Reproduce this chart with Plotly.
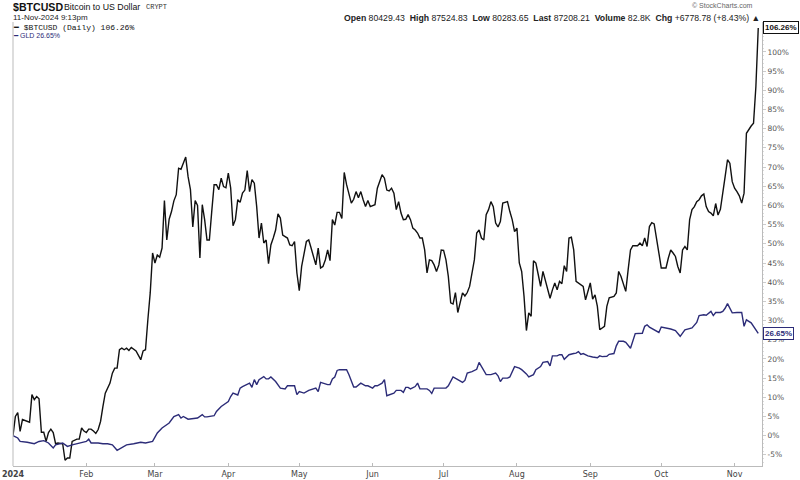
import pandas as pd
import plotly.graph_objects as go

# Days since 2024-01-01 and % change since start
btc_day = [0, 1, 2, 3, 4, 5, 7, 8, 9, 10, 11, 12, 13, 14, 15, 16, 17, 18, 19, 21, 22, 23, 24, 25, 27, 28, 29, 30,
           31, 32, 33, 34, 35, 36, 37, 38, 39, 41, 42, 43, 44, 45, 46, 47, 48, 49, 50, 52, 54, 55, 56, 57, 58, 59,
           60, 61, 62, 63, 64, 65, 66, 67, 68, 69, 70, 71, 73, 74, 75, 76, 77, 78, 79, 80, 81, 82, 83, 84, 85, 86,
           87, 88, 89, 90, 91, 92, 93, 94, 95, 96, 97, 98, 99, 100, 101, 102, 103, 104, 105, 106, 107, 108, 109,
           110, 111, 112, 113, 114, 116, 117, 118, 119, 120, 121, 122, 124, 125, 126, 128, 129, 130, 131, 132, 133,
           134, 135, 136, 137, 138, 139, 140, 141, 142, 143, 144, 145, 146, 147, 148, 149, 150, 151, 153, 154, 156,
           157, 158, 159, 160, 161, 162, 163, 164, 165, 166, 167, 168, 169, 170, 171, 172, 173, 174, 175, 176, 177,
           178, 179, 180, 181, 182, 183, 184, 185, 186, 187, 188, 189, 190, 191, 192, 193, 194, 195, 196, 197, 198,
           199, 200, 201, 202, 203, 204, 205, 206, 207, 208, 209, 210, 211, 212, 213, 214, 215, 216, 217, 218, 219,
           220, 221, 222, 223, 224, 225, 226, 227, 228, 229, 230, 231, 232, 233, 234, 235, 236, 237, 238, 239, 240,
           241, 242, 243, 244, 245, 246, 247, 248, 250, 251, 252, 254, 255, 256, 257, 258, 259, 260, 261, 262, 264,
           265, 266, 267, 268, 269, 270, 271, 272, 273, 274, 276, 277, 278, 279, 280, 281, 282, 283, 284, 285, 286,
           287, 288, 289, 290, 291, 292, 293, 294, 295, 296, 297, 298, 299, 300, 301, 302, 303, 304, 305, 306, 307,
           308, 309, 310, 311, 312, 313, 314, 315]
btc_pct = [0.0, 5.0, 6.0, 1.1, 4.2, 3.9, 3.5, 10.7, 9.4, 10.2, 9.6, 0.9, 0.9, -1.5, 0.8, 1.7, 0.8, -2.1, -1.9, -2.1,
           -6.4, -5.8, -5.8, -1.5, -0.9, -0.9, 2.0, 1.2, 0.8, 1.7, 1.7, 1.2, 0.6, 1.6, 3.7, 7.6, 11.1, 13.7, 16.3,
           17.6, 17.6, 22.4, 22.8, 22.4, 22.8, 22.2, 23.0, 22.1, 19.8, 22.1, 22.4, 30.2, 37.2, 47.6, 45.0, 47.1,
           46.5, 48.9, 61.3, 51.0, 56.4, 58.4, 61.2, 62.8, 69.7, 69.4, 72.6, 67.5, 64.1, 54.4, 61.3, 60.0, 46.3,
           60.2, 56.3, 51.0, 51.0, 58.4, 65.4, 65.4, 64.1, 67.1, 64.9, 64.6, 68.4, 64.6, 54.7, 56.3, 61.5, 60.8,
           63.2, 64.0, 69.1, 63.6, 66.7, 65.8, 59.7, 51.5, 55.4, 50.2, 51.0, 44.8, 49.7, 51.5, 53.6, 57.8, 56.7,
           52.3, 51.5, 49.7, 49.5, 50.6, 42.4, 37.8, 44.1, 50.6, 51.0, 48.9, 44.5, 48.9, 43.7, 44.1, 45.8, 48.4,
           45.6, 56.3, 54.9, 58.2, 58.2, 56.6, 68.6, 65.4, 62.8, 60.6, 61.6, 63.6, 62.0, 63.6, 61.5, 59.7, 61.3,
           59.7, 60.2, 64.5, 68.0, 67.1, 64.0, 63.8, 64.5, 63.2, 58.9, 61.0, 58.0, 56.3, 56.4, 57.6, 56.3, 54.1,
           53.6, 52.8, 51.5, 51.5, 48.4, 42.4, 45.8, 45.6, 44.5, 42.8, 44.5, 48.4, 48.3, 45.8, 41.5, 34.6, 34.3,
           37.3, 32.1, 34.3, 37.2, 36.4, 37.3, 38.9, 41.9, 45.8, 52.8, 53.6, 51.5, 51.0, 57.6, 58.9, 61.0, 59.7,
           55.4, 54.4, 55.8, 60.6, 60.8, 61.0, 58.4, 56.3, 53.2, 54.1, 45.0, 42.8, 36.3, 27.4, 32.0, 31.1, 45.6,
           45.0, 42.0, 38.9, 42.8, 40.6, 38.5, 35.8, 38.0, 39.8, 38.0, 40.2, 39.6, 44.3, 42.8, 51.5, 51.7, 48.4,
           40.2, 39.8, 39.4, 38.9, 35.4, 37.3, 39.8, 35.6, 36.7, 33.7, 27.6, 28.5, 33.7, 35.9, 36.3, 37.2, 42.8,
           41.5, 39.4, 37.6, 43.2, 48.4, 49.5, 49.5, 50.2, 49.5, 51.5, 49.3, 54.5, 55.5, 55.2, 51.9, 47.6, 43.7,
           43.7, 46.3, 48.4, 47.6, 46.7, 44.1, 42.4, 48.4, 49.3, 48.4, 56.3, 58.9, 59.7, 61.0, 61.5, 62.5, 63.0,
           59.7, 58.4, 58.0, 57.3, 60.5, 57.5, 59.0, 62.8, 67.5, 71.9, 71.0, 66.2, 64.5, 63.6, 62.5, 60.6, 63.2,
           78.8, 79.8, 80.7, 81.4, 91.0, 106.26]

gld_day = [0, 2, 3, 6, 9, 11, 13, 15, 17, 18, 21, 22, 23, 25, 28, 31, 32, 33, 36, 38, 40, 42, 44, 46, 48, 51, 54,
           56, 59, 61, 63, 66, 68, 70, 71, 72, 74, 78, 80, 81, 82, 85, 86, 88, 89, 91, 92, 93, 95, 96, 97, 99, 100,
           101, 102, 103, 104, 106, 107, 108, 109, 111, 113, 115, 116, 119, 120, 121, 123, 125, 128, 129, 130, 133,
           134, 135, 136, 137, 138, 141, 142, 144, 145, 147, 149, 150, 152, 153, 154, 156, 157, 158, 161, 162, 164,
           165, 166, 167, 168, 170, 171, 172, 175, 176, 177, 178, 180, 183, 184, 186, 188, 190, 191, 192, 194, 196,
           197, 198, 199, 200, 202, 204, 205, 206, 207, 209, 210, 212, 214, 215, 217, 218, 220, 221, 223, 224, 226,
           227, 228, 230, 231, 232, 233, 235, 237, 238, 239, 240, 241, 243, 245, 247, 248, 249, 251, 252, 254, 255,
           256, 258, 259, 261, 263, 264, 266, 267, 268, 269, 271, 273, 274, 276, 278, 280, 282, 284, 285, 287, 289,
           290, 292, 293, 295, 296, 297, 299, 300, 301, 302, 303, 304, 306, 308, 309, 310, 312, 315]
gld_pct = [0.0, -0.6, -1.5, -1.7, -2.1, -1.5, -1.3, -1.9, -3.2, -2.4, -1.9, -2.4, -2.8, -2.4, -1.9, -1.5, -0.9,
           -1.9, -1.9, -2.1, -2.1, -2.4, -3.8, -3.0, -2.4, -2.1, -1.7, -1.9, -1.5, 0.7, 2.0, 3.3, 5.0, 5.5, 4.6,
           5.0, 4.3, 4.6, 5.5, 4.9, 4.9, 5.2, 6.3, 7.6, 8.0, 8.9, 10.2, 11.1, 10.6, 12.4, 12.8, 13.3, 13.7, 12.6,
           14.6, 13.3, 14.6, 15.4, 14.8, 14.8, 15.3, 14.1, 12.4, 12.2, 13.0, 13.0, 10.7, 11.5, 11.1, 11.8, 12.4,
           11.5, 13.9, 13.3, 13.3, 14.8, 15.3, 17.0, 17.2, 17.2, 15.9, 12.7, 12.7, 13.7, 13.0, 13.0, 12.4, 13.0,
           13.0, 13.7, 14.6, 10.4, 11.1, 11.8, 11.8, 11.3, 12.6, 12.6, 12.2, 12.8, 13.7, 12.2, 12.2, 11.8, 11.0,
           12.4, 12.4, 12.4, 13.0, 15.3, 14.6, 13.9, 14.4, 16.3, 16.7, 17.3, 19.1, 18.0, 17.3, 15.9, 15.9, 16.3,
           15.6, 14.1, 15.0, 15.0, 15.3, 18.0, 17.6, 17.2, 16.1, 15.3, 15.9, 17.2, 18.0, 19.1, 19.3, 18.2, 20.8,
           20.8, 21.1, 21.1, 19.9, 21.1, 21.4, 21.5, 21.9, 21.2, 21.4, 20.8, 20.5, 20.3, 20.8, 20.6, 20.7, 21.2,
           21.4, 23.4, 24.6, 24.6, 24.3, 22.8, 26.6, 26.6, 26.7, 28.5, 28.9, 28.3, 27.6, 26.9, 28.3, 28.1, 27.8,
           27.4, 25.9, 27.6, 27.8, 28.1, 29.5, 31.3, 31.5, 31.4, 32.4, 31.3, 32.1, 32.1, 32.4, 33.2, 34.4, 33.2,
           32.0, 32.1, 32.1, 28.5, 30.2, 29.4, 26.65]

month_ticks = ["2024-01-01", "2024-02-01", "2024-03-01", "2024-04-01", "2024-05-01", "2024-06-01",
               "2024-07-01", "2024-08-01", "2024-09-01", "2024-10-01", "2024-11-01"]
month_labels = ["<b>2024</b>", "Feb", "Mar", "Apr", "May", "Jun", "Jul", "Aug", "Sep", "Oct", "Nov"]
y_ticks = list(range(-5, 101, 5))
y_labels = ["%d%%" % v for v in y_ticks]

start = pd.Timestamp("2024-01-01")
btc_x = start + pd.to_timedelta(btc_day, unit="D")
gld_x = start + pd.to_timedelta(gld_day, unit="D")

BTC_C = "#111111"
GLD_C = "#2c2c78"
FONT = "DejaVu Sans"
SANS = "Liberation Sans"

fig = go.Figure()
fig.add_trace(go.Scatter(x=btc_x, y=btc_pct, mode="lines", line=dict(color=BTC_C, width=1.4),
                         name="$BTCUSD", showlegend=False))
fig.add_trace(go.Scatter(x=gld_x, y=gld_pct, mode="lines", line=dict(color=GLD_C, width=1.4),
                         name="GLD", showlegend=False))

fig.update_layout(
    width=800, height=480,
    margin=dict(l=13, r=38, t=22, b=14, autoexpand=False),
    paper_bgcolor="white", plot_bgcolor="white",
    font=dict(family=FONT, size=8, color="#444"),
    xaxis=dict(
        type="date", automargin=False,
        range=["2024-01-01", "2024-11-12 14:00"],
        tickvals=month_ticks, ticktext=month_labels,
        showgrid=False, zeroline=False,
        showline=True, linecolor="#bbbbbb", linewidth=1,
        ticks="inside", ticklen=3, tickcolor="#bbbbbb",
        tickfont=dict(size=8, color="#444", family=FONT),
    ),
    yaxis=dict(
        side="right", automargin=False,
        range=[-7.9, 107.8],
        tickvals=y_ticks, ticktext=y_labels,
        showgrid=False, zeroline=False,
        showline=True, linecolor="#bbbbbb", linewidth=1,
        ticks="outside", ticklen=3, tickcolor="#cccccc",
        tickfont=dict(size=7.5, color="#555", family=FONT),
        minor=dict(dtick=1, ticks="outside", ticklen=1, tickcolor="#dddddd"),
    ),
)
# left border line
fig.add_shape(type="line", xref="paper", yref="paper", x0=0, x1=0, y0=0, y1=1,
              line=dict(color="#bbbbbb", width=1))

def px(xp):
    return (xp - 13) / 749.0

# Header texts
fig.add_annotation(xref="paper", yref="paper", x=px(11), y=1.034, xanchor="left", yanchor="middle",
                   text="<b>$BTCUSD</b>", showarrow=False,
                   font=dict(size=10.6, color="#111", family=SANS))
fig.add_annotation(xref="paper", yref="paper", x=px(62), y=1.033, xanchor="left", yanchor="middle",
                   text="Bitcoin to US Dollar", showarrow=False,
                   font=dict(size=8.8, color="#111", family=SANS))
fig.add_annotation(xref="paper", yref="paper", x=px(144), y=1.033, xanchor="left", yanchor="middle",
                   text="CRYPT", showarrow=False,
                   font=dict(size=7, color="#333", family="Liberation Mono"))
fig.add_annotation(xref="paper", yref="paper", x=px(11), y=1.010, xanchor="left", yanchor="middle",
                   text="11-Nov-2024 9:13pm", showarrow=False,
                   font=dict(size=8, color="#222", family=SANS))
fig.add_annotation(xref="paper", yref="paper", x=1.0, y=1.010, xanchor="right", yanchor="middle",
                   text="<b>Open</b> 80429.43  <b>High</b> 87524.83  <b>Low</b> 80283.65  "
                        "<b>Last</b> 87208.21  <b>Volume</b> 82.8K  <b>Chg</b> +6778.78 (+8.43%) ▲",
                   showarrow=False, font=dict(size=8.7, color="#222", family=SANS))
fig.add_annotation(xref="paper", yref="paper", x=0.99, y=1.037, xanchor="right", yanchor="middle",
                   text="© StockCharts.com", showarrow=False,
                   font=dict(size=7, color="#666", family=SANS))
# legend-like texts
fig.add_annotation(xref="paper", yref="paper", x=px(11), y=0.988, xanchor="left", yanchor="middle",
                   text="━ $BTCUSD (Daily) 106.26%", showarrow=False,
                   font=dict(size=8, color="#111", family="Liberation Mono"))
fig.add_annotation(xref="paper", yref="paper", x=px(11), y=0.969, xanchor="left", yanchor="middle",
                   text="━ GLD 26.65%", showarrow=False,
                   font=dict(size=7, color=GLD_C, family=SANS))

# last-value boxes
fig.add_annotation(xref="paper", yref="y", x=1.002, y=btc_pct[-1], xanchor="left", yanchor="middle",
                   text="<b>%.2f%%</b>" % btc_pct[-1], showarrow=False, bgcolor="white",
                   bordercolor=BTC_C, borderwidth=1, borderpad=1,
                   font=dict(size=8, color=BTC_C, family=SANS))
fig.add_annotation(xref="paper", yref="y", x=1.002, y=gld_pct[-1], xanchor="left", yanchor="middle",
                   text="<b>%.2f%%</b>" % gld_pct[-1], showarrow=False, bgcolor="white",
                   bordercolor=GLD_C, borderwidth=1, borderpad=1,
                   font=dict(size=8, color=GLD_C, family=SANS))

fig.write_html("out.html")
